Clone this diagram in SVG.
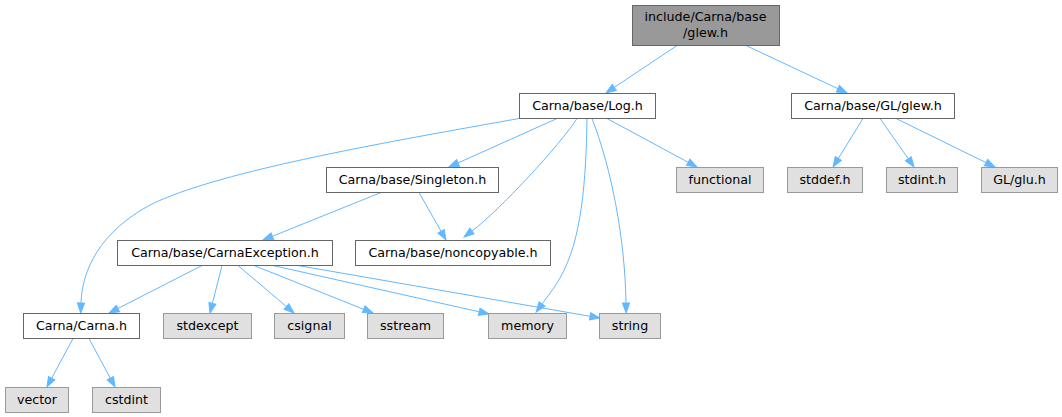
<svg xmlns="http://www.w3.org/2000/svg" width="1062" height="417" viewBox="0 0 1062 417">
<style>
.n rect{fill:#ffffff;stroke:#666666;stroke-width:1}
.x rect{fill:#e0e0e0;stroke:#999999;stroke-width:1}
.r rect{fill:#999999;stroke:#666666;stroke-width:1}
text{font-family:"DejaVu Sans",sans-serif;font-size:12.67px;fill:#000000;text-anchor:middle}
.e path{fill:none;stroke:#63b8ff;stroke-width:1}
</style>
<defs>
<marker id="ah" markerUnits="userSpaceOnUse" markerWidth="10" markerHeight="8" viewBox="0 -4 10 8" refX="0" refY="0" orient="auto" overflow="visible">
<path d="M0,-3.6 L10,0 L0,3.6 z" fill="#63b8ff" stroke="#63b8ff" stroke-width="1"/>
</marker>
</defs>
<g id="edges" class="e">
<path d="M677,45.5 L614.3,87.4" marker-end="url(#ah)"/>
<path d="M746,45.5 L837.9,88.7" marker-end="url(#ah)"/>
<path d="M519,118.5 C400,140 220,170 150,205 C100,232 82,270 81,303" marker-end="url(#ah)"/>
<path d="M557,118.5 L458.1,162.9" marker-end="url(#ah)"/>
<path d="M577,118.5 C560,145 500,210 472,231" marker-end="url(#ah)"/>
<path d="M587,118.5 C586,180 582,240 560,278 C553,290 547,297 542,304" marker-end="url(#ah)"/>
<path d="M592,118.5 C612,170 625,240 626,303" marker-end="url(#ah)"/>
<path d="M607,118.5 L688.2,162.3" marker-end="url(#ah)"/>
<path d="M863,118.5 L838.3,158.5" marker-end="url(#ah)"/>
<path d="M880,118.5 L908.3,158.8" marker-end="url(#ah)"/>
<path d="M896,118.5 L986,162.6" marker-end="url(#ah)"/>
<path d="M381,192.5 L272.3,236.3" marker-end="url(#ah)"/>
<path d="M419,192.5 L441.1,231.3" marker-end="url(#ah)"/>
<path d="M202,265.5 L117.9,308.5" marker-end="url(#ah)"/>
<path d="M222,265.5 L212.4,303.3" marker-end="url(#ah)"/>
<path d="M238,265.5 L286.4,306.5" marker-end="url(#ah)"/>
<path d="M254,265.5 L363.7,309.3" marker-end="url(#ah)"/>
<path d="M273,265.5 L479.2,311.8" marker-end="url(#ah)"/>
<path d="M298,265.5 L590.1,316.3" marker-end="url(#ah)"/>
<path d="M73,338.5 L51.7,378.2" marker-end="url(#ah)"/>
<path d="M89,338.5 L110.3,378.2" marker-end="url(#ah)"/>
</g>
<g id="root" class="r"><rect x="632.5" y="5.5" width="147" height="40"/><text x="705.5" y="21">include/Carna/base</text><text x="705.5" y="37">/glew.h</text></g>
<g id="log" class="n"><rect x="519.5" y="93.5" width="136" height="25"/><text x="587.5" y="110">Carna/base/Log.h</text></g>
<g id="glglew" class="n"><rect x="791.5" y="93.5" width="163" height="25"/><text x="873" y="110">Carna/base/GL/glew.h</text></g>
<g id="singleton" class="n"><rect x="326.5" y="167.5" width="172" height="25"/><text x="412.5" y="184">Carna/base/Singleton.h</text></g>
<g id="functional" class="x"><rect x="676.5" y="167.5" width="87" height="25"/><text x="720" y="184">functional</text></g>
<g id="stddef" class="x"><rect x="787.5" y="167.5" width="75" height="25"/><text x="825" y="184">stddef.h</text></g>
<g id="stdint" class="x"><rect x="886.5" y="167.5" width="71" height="25"/><text x="922" y="184">stdint.h</text></g>
<g id="glu" class="x"><rect x="981.5" y="167.5" width="76" height="25"/><text x="1019.5" y="184">GL/glu.h</text></g>
<g id="carnaexception" class="n"><rect x="117.5" y="240.5" width="215" height="25"/><text x="225" y="257">Carna/base/CarnaException.h</text></g>
<g id="noncopyable" class="n"><rect x="355.5" y="240.5" width="195" height="25"/><text x="453" y="257">Carna/base/noncopyable.h</text></g>
<g id="carna" class="n"><rect x="23.5" y="313.5" width="116" height="25"/><text x="81.5" y="330">Carna/Carna.h</text></g>
<g id="stdexcept" class="x"><rect x="163.5" y="313.5" width="88" height="25"/><text x="207.5" y="330">stdexcept</text></g>
<g id="csignal" class="x"><rect x="274.5" y="313.5" width="70" height="25"/><text x="309.5" y="330">csignal</text></g>
<g id="sstream" class="x"><rect x="367.5" y="313.5" width="76" height="25"/><text x="405.5" y="330">sstream</text></g>
<g id="memory" class="x"><rect x="488.5" y="313.5" width="78" height="25"/><text x="527.5" y="330">memory</text></g>
<g id="string" class="x"><rect x="599.5" y="313.5" width="61" height="25"/><text x="630" y="330">string</text></g>
<g id="vector" class="x"><rect x="5.5" y="387.5" width="63" height="25"/><text x="37" y="404">vector</text></g>
<g id="cstdint" class="x"><rect x="92.5" y="387.5" width="68" height="25"/><text x="126.5" y="404">cstdint</text></g>
</svg>
